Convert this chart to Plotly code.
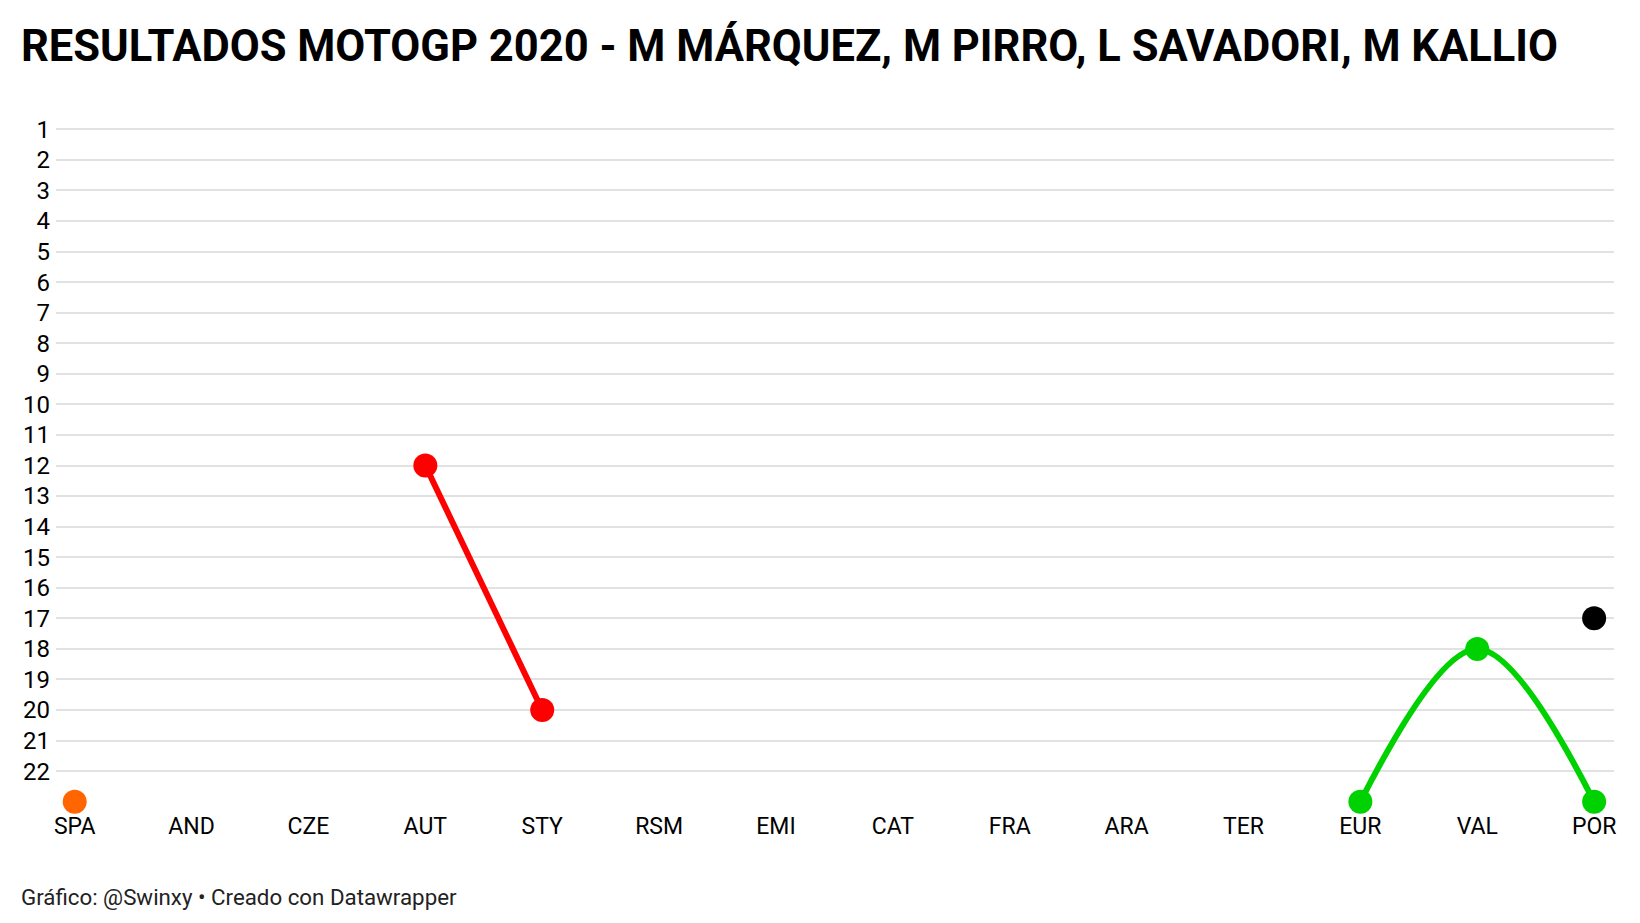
import plotly.graph_objects as go

races = ["SPA", "AND", "CZE", "AUT", "STY", "RSM", "EMI", "CAT", "FRA", "ARA", "TER", "EUR", "VAL", "POR"]

# 23 = position below last classified (not finished / not classified)
marquez = [23, None, None, None, None, None, None, None, None, None, None, None, None, None]
pirro = [None, None, None, 12, 20, None, None, None, None, None, None, None, None, None]
savadori = [None, None, None, None, None, None, None, None, None, None, None, 23, 18, 23]
kallio = [None, None, None, None, None, None, None, None, None, None, None, None, None, 17]

series = [
    ("M Márquez", marquez, "#ff6600"),
    ("M Pirro", pirro, "#ff0000"),
    ("L Savadori", savadori, "#00d100"),
    ("M Kallio", kallio, "#000000"),
]

ytick_vals = list(range(1, 23))

fig = go.Figure()
x_idx = list(range(len(races)))
for name, vals, color in series:
    fig.add_trace(go.Scatter(
        x=x_idx, y=vals, name=name, mode="lines+markers",
        line=dict(color=color, width=6, shape="spline", smoothing=1.0),
        marker=dict(color=color, size=24),
        connectgaps=False, showlegend=False, cliponaxis=False,
    ))

W, H = 1640, 923
L, R, T, B = 48, 34, 106, 114
y_lo, y_hi = 23.5, 0.5
# x axis placed at the y=23 level (fraction of plot height from bottom)
x_axis_pos = (y_lo - 23) / (y_lo - y_hi)

fig.update_layout(
    width=W, height=H,
    paper_bgcolor="white", plot_bgcolor="white",
    margin=dict(l=L, r=R, t=T, b=B),
    font=dict(family="Roboto", color="#000000", size=23),
    title=dict(
        text="<b>RESULTADOS MOTOGP 2020 - M MÁRQUEZ, M PIRRO, L SAVADORI, M KALLIO</b>",
        x=13 / W, xanchor="left", y=1 - 38 / H, yanchor="middle",
        font=dict(family="Roboto", size=43.5, color="#000000"),
    ),
    xaxis=dict(
        range=[-0.16, 13.17], tickvals=x_idx, ticktext=races,
        showgrid=False, zeroline=False, showline=False, ticks="",
        anchor="free", position=x_axis_pos, ticklabelstandoff=8,
        tickfont=dict(size=23, color="#000000"), fixedrange=True,
    ),
    yaxis=dict(
        range=[y_lo, y_hi], tickvals=ytick_vals,
        ticktext=[str(v) for v in ytick_vals],
        showgrid=True, gridcolor="#e2e2e2", gridwidth=2,
        zeroline=False, showline=False, ticks="", ticklabelstandoff=5,
        tickfont=dict(size=24, color="#000000"), fixedrange=True,
    ),
    annotations=[dict(
        text="Gráfico: @Swinxy • Creado con Datawrapper",
        xref="paper", yref="paper", x=(11 - L) / (W - L - R),
        y=0, yshift=-(889 - (H - B)), xanchor="left", yanchor="middle",
        showarrow=False, font=dict(family="Roboto", size=22.3, color="#222222"),
    )],
)

fig.write_html("out.html")
